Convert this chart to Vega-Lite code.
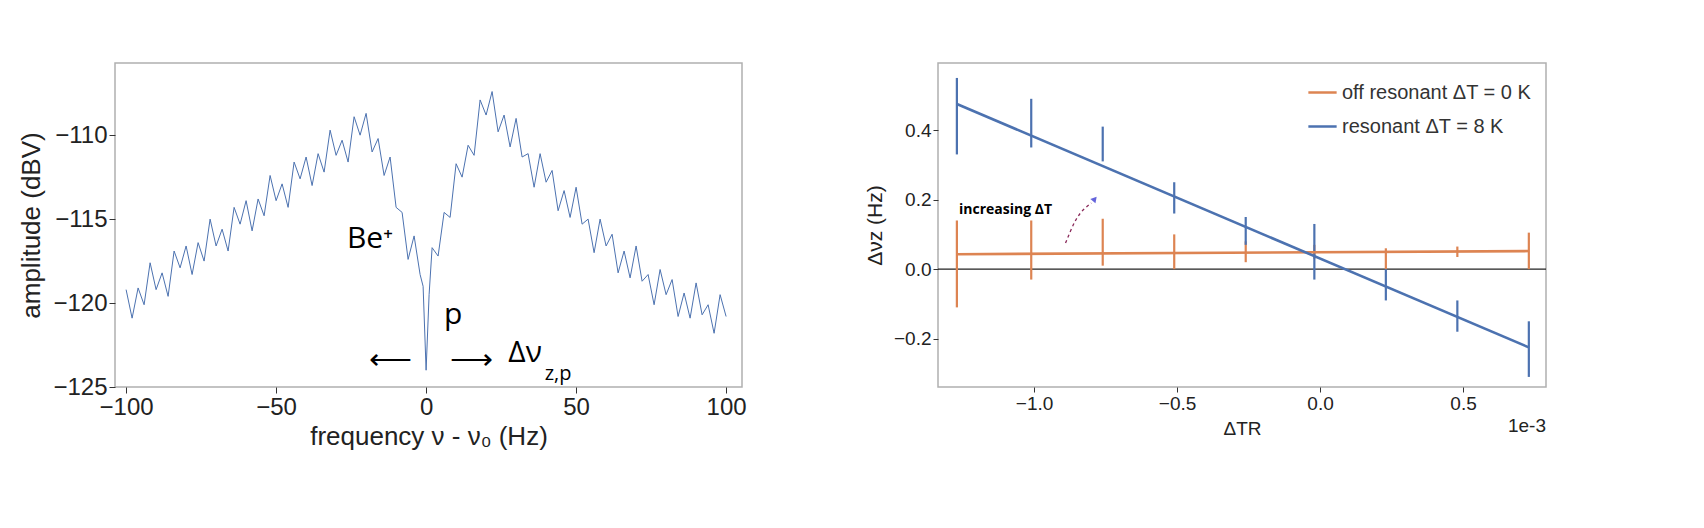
{
"$schema":"https://vega.github.io/schema/vega-lite/v6.json",
"background":"white",
"padding":{"left":18,"top":62,"right":10,"bottom":10},
"spacing":116,
"config":{"font":"Liberation Sans","view":{"stroke":"#b0b0b0","strokeWidth":1.5},"axis":{"grid":false,"domain":false,"tickColor":"#333","labelColor":"#222","titleColor":"#222","titleFontWeight":"normal"}},
"datasets":{
"spec":[{"f":-100,"a":-119.2},{"f":-98,"a":-120.9},{"f":-96,"a":-119.1},{"f":-94,"a":-120.1},{"f":-92,"a":-117.6},{"f":-90,"a":-119.2},{"f":-88,"a":-118.2},{"f":-86,"a":-119.6},{"f":-84,"a":-116.9},{"f":-82,"a":-117.9},{"f":-80,"a":-116.6},{"f":-78,"a":-118.3},{"f":-76,"a":-116.4},{"f":-74,"a":-117.5},{"f":-72,"a":-115.0},{"f":-70,"a":-116.6},{"f":-68,"a":-115.6},{"f":-66,"a":-116.9},{"f":-64,"a":-114.3},{"f":-62,"a":-115.3},{"f":-60,"a":-113.9},{"f":-58,"a":-115.7},{"f":-56,"a":-113.8},{"f":-54,"a":-114.8},{"f":-52,"a":-112.4},{"f":-50,"a":-113.9},{"f":-48,"a":-112.9},{"f":-46,"a":-114.3},{"f":-44,"a":-111.6},{"f":-42,"a":-112.6},{"f":-40,"a":-111.3},{"f":-38,"a":-113.0},{"f":-36,"a":-111.1},{"f":-34,"a":-112.2},{"f":-32,"a":-109.7},{"f":-30,"a":-111.2},{"f":-28,"a":-110.3},{"f":-26,"a":-111.6},{"f":-24,"a":-108.9},{"f":-22,"a":-110.0},{"f":-20,"a":-108.7},{"f":-18,"a":-111.0},{"f":-16,"a":-110.2},{"f":-14,"a":-112.4},{"f":-12,"a":-111.3},{"f":-10,"a":-114.3},{"f":-8,"a":-114.6},{"f":-6,"a":-117.4},{"f":-4,"a":-116.0},{"f":-2,"a":-118.3},{"f":-1,"a":-119.0},{"f":0,"a":-124.0},{"f":1,"a":-119.5},{"f":2,"a":-116.7},{"f":4,"a":-117.2},{"f":6,"a":-114.6},{"f":8,"a":-114.9},{"f":10,"a":-111.7},{"f":12,"a":-112.5},{"f":14,"a":-110.6},{"f":16,"a":-111.2},{"f":18,"a":-107.9},{"f":20,"a":-108.8},{"f":22,"a":-107.4},{"f":24,"a":-109.8},{"f":26,"a":-108.8},{"f":28,"a":-110.7},{"f":30,"a":-109.0},{"f":32,"a":-111.3},{"f":34,"a":-111.1},{"f":36,"a":-113.1},{"f":38,"a":-111.1},{"f":40,"a":-112.8},{"f":42,"a":-112.1},{"f":44,"a":-114.5},{"f":46,"a":-113.3},{"f":48,"a":-114.9},{"f":50,"a":-113.1},{"f":52,"a":-115.3},{"f":54,"a":-115.0},{"f":56,"a":-117.0},{"f":58,"a":-115.0},{"f":60,"a":-116.6},{"f":62,"a":-115.9},{"f":64,"a":-118.2},{"f":66,"a":-116.9},{"f":68,"a":-118.5},{"f":70,"a":-116.6},{"f":72,"a":-118.7},{"f":74,"a":-118.3},{"f":76,"a":-120.1},{"f":78,"a":-118.0},{"f":80,"a":-119.5},{"f":82,"a":-118.6},{"f":84,"a":-120.8},{"f":86,"a":-119.4},{"f":88,"a":-120.9},{"f":90,"a":-118.8},{"f":92,"a":-120.7},{"f":94,"a":-120.1},{"f":96,"a":-121.8},{"f":98,"a":-119.5},{"f":100,"a":-120.8}],
"leftText":[{"f":-18.7,"a":-116.2,"t":"Be⁺","s":30},{"f":9,"a":-120.7,"t":"p","s":30},{"f":-12,"a":-123.4,"t":"⟵","s":30},{"f":15,"a":-123.4,"t":"⟶","s":30},{"f":33,"a":-123.0,"t":"Δν","s":30}],
"fit":[{"s":"off resonant ΔT = 0 K","x":-1.27,"y":0.043},{"s":"off resonant ΔT = 0 K","x":0.73,"y":0.052},{"s":"resonant ΔT = 8 K","x":-1.27,"y":0.475},{"s":"resonant ΔT = 8 K","x":0.73,"y":-0.225}],
"err":[{"s":"off resonant ΔT = 0 K","x":-1.27,"lo":-0.11,"hi":0.14},{"s":"off resonant ΔT = 0 K","x":-1.01,"lo":-0.03,"hi":0.14},{"s":"off resonant ΔT = 0 K","x":-0.76,"lo":0.01,"hi":0.145},{"s":"off resonant ΔT = 0 K","x":-0.51,"lo":0.0,"hi":0.1},{"s":"off resonant ΔT = 0 K","x":-0.26,"lo":0.02,"hi":0.08},{"s":"off resonant ΔT = 0 K","x":-0.02,"lo":0.03,"hi":0.07},{"s":"off resonant ΔT = 0 K","x":0.23,"lo":0.0,"hi":0.06},{"s":"off resonant ΔT = 0 K","x":0.48,"lo":0.035,"hi":0.065},{"s":"off resonant ΔT = 0 K","x":0.73,"lo":0.0,"hi":0.105},
{"s":"resonant ΔT = 8 K","x":-1.27,"lo":0.33,"hi":0.55},{"s":"resonant ΔT = 8 K","x":-1.01,"lo":0.35,"hi":0.49},{"s":"resonant ΔT = 8 K","x":-0.76,"lo":0.31,"hi":0.41},{"s":"resonant ΔT = 8 K","x":-0.51,"lo":0.16,"hi":0.25},{"s":"resonant ΔT = 8 K","x":-0.26,"lo":0.07,"hi":0.15},{"s":"resonant ΔT = 8 K","x":-0.02,"lo":-0.03,"hi":0.13},{"s":"resonant ΔT = 8 K","x":0.23,"lo":-0.09,"hi":0.0},{"s":"resonant ΔT = 8 K","x":0.48,"lo":-0.18,"hi":-0.09},{"s":"resonant ΔT = 8 K","x":0.73,"lo":-0.31,"hi":-0.15}],
"arrow":[{"x":-0.89,"y":0.075,"o":0},{"x":-0.855,"y":0.14,"o":1},{"x":-0.80,"y":0.19,"o":2}]
},
"hconcat":[
{"width":627,"height":324,
"layer":[
{"data":{"name":"spec"},"mark":{"type":"line","color":"#4c72b0","strokeWidth":1},
"encoding":{"x":{"field":"f","type":"quantitative","scale":{"domain":[-103.7,105.3],"nice":false,"zero":false},"axis":{"values":[-100,-50,0,50,100],"title":"frequency ν - ν₀ (Hz)","labelFontSize":24,"titleFontSize":26,"tickSize":6,"labelPadding":2,"titlePadding":4}},
"y":{"field":"a","type":"quantitative","scale":{"domain":[-125,-105.7],"nice":false,"zero":false},"axis":{"values":[-125,-120,-115,-110],"title":"amplitude (dBV)","labelFontSize":24,"titleFontSize":26,"tickSize":6,"titlePadding":8}}}},
{"data":{"name":"leftText"},"mark":{"type":"text","font":"Open Sans","align":"center","baseline":"middle","color":"black"},
"encoding":{"x":{"field":"f","type":"quantitative"},"y":{"field":"a","type":"quantitative"},"text":{"field":"t"},"size":{"field":"s","type":"quantitative","scale":null}}},
{"data":{"values":[{"f":44,"a":-124.2,"t":"z,p"}]},"mark":{"type":"text","font":"Open Sans","fontSize":20,"align":"center","color":"black"},
"encoding":{"x":{"field":"f","type":"quantitative"},"y":{"field":"a","type":"quantitative"},"text":{"field":"t"}}}
]},
{"width":608,"height":324,
"layer":[
{"data":{"values":[{"y":0}]},"mark":{"type":"rule","color":"#222","strokeWidth":1.2},"encoding":{"y":{"field":"y","type":"quantitative"}}},
{"data":{"name":"err"},"mark":{"type":"rule","strokeWidth":2.2},
"encoding":{"x":{"field":"x","type":"quantitative"},"y":{"field":"lo","type":"quantitative"},"y2":{"field":"hi"},"color":{"field":"s","type":"nominal"}}},
{"data":{"name":"fit"},"mark":{"type":"line","strokeWidth":2.6},
"encoding":{"x":{"field":"x","type":"quantitative","scale":{"domain":[-1.336,0.79],"nice":false,"zero":false},"axis":{"values":[-1,-0.5,0,0.5],"format":".1f","title":"ΔTR","labelFontSize":19,"titleFontSize":19,"tickSize":5,"titlePadding":6}},
"y":{"field":"y","type":"quantitative","scale":{"domain":[-0.339,0.593],"nice":false,"zero":false},"axis":{"values":[-0.2,0,0.2,0.4],"format":".1f","title":"Δνz (Hz)","labelFontSize":19,"titleFontSize":21,"tickSize":5,"titlePadding":8}},
"color":{"field":"s","type":"nominal","scale":{"domain":["off resonant ΔT = 0 K","resonant ΔT = 8 K"],"range":["#dd8452","#4c72b0"]},"legend":{"title":null,"orient":"top-right","labelFontSize":20,"labelLimit":500,"symbolType":"stroke","symbolSize":800,"symbolStrokeWidth":2.5,"rowPadding":8,"offset":14,"labelColor":"#333"}}}},
{"data":{"values":[{"x":-1.10,"y":0.17,"t":"increasing ΔT"}]},"mark":{"type":"text","font":"Open Sans","fontWeight":"bold","fontSize":14,"color":"black"},
"encoding":{"x":{"field":"x","type":"quantitative"},"y":{"field":"y","type":"quantitative"},"text":{"field":"t"}}},
{"data":{"name":"arrow"},"mark":{"type":"line","interpolate":"monotone","strokeDash":[3,3],"color":"#8a2a5a","strokeWidth":1.3},
"encoding":{"x":{"field":"x","type":"quantitative"},"y":{"field":"y","type":"quantitative"},"order":{"field":"o"}}},
{"data":{"values":[{"x":-0.79,"y":0.2}]},"mark":{"type":"point","shape":"triangle","filled":true,"color":"#2222cc","size":45,"angle":40},
"encoding":{"x":{"field":"x","type":"quantitative"},"y":{"field":"y","type":"quantitative"}}},
{"data":{"values":[{"x":0.79,"y":-0.339,"t":"1e-3"}]},"mark":{"type":"text","fontSize":19,"align":"right","baseline":"top","dy":30,"color":"#222"},
"encoding":{"x":{"field":"x","type":"quantitative"},"y":{"field":"y","type":"quantitative"},"text":{"field":"t"}}}
]}
],
"resolve":{"scale":{"color":"independent"}}
}
